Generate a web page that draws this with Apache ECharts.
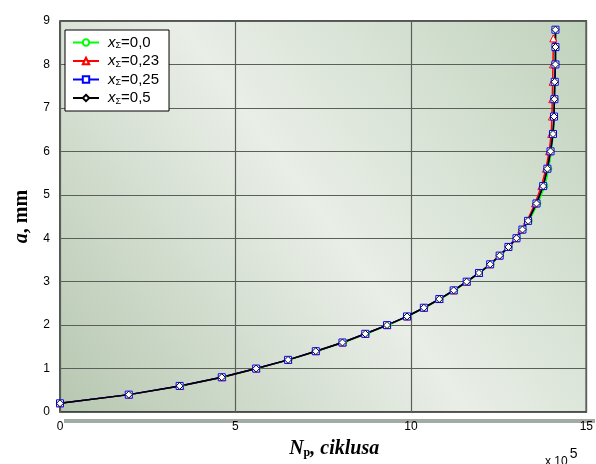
<!DOCTYPE html>
<html>
<head>
<meta charset="utf-8">
<script src="https://cdn.jsdelivr.net/npm/echarts@6/dist/echarts.min.js"></script>
<style>
  html, body { margin: 0; padding: 0; background: #fff; }
  #chart { width: 596px; height: 464px; }
</style>
</head>
<body>
<div id="chart"></div>
<script>
// crack length a (mm) at each recorded step
const aVals = [0.2, 0.4, 0.6, 0.8, 1.0, 1.2, 1.4, 1.6, 1.8, 2.0, 2.2, 2.4, 2.6, 2.8, 3.0, 3.2, 3.4, 3.6, 3.8, 4.0, 4.2, 4.4,
    4.8, 5.2, 5.6, 6.0, 6.4, 6.8, 7.2, 7.6, 8.0, 8.4, 8.8]
const aValsRed = [0.2, 0.4, 0.6, 0.8, 1.0, 1.2, 1.4, 1.6, 1.8, 2.0, 2.2, 2.4, 2.6, 2.8, 3.0, 3.2, 3.4, 3.6, 3.8, 4.0, 4.2, 4.4,
    4.8, 5.2, 5.6, 6.0, 6.4, 6.8, 7.2, 7.6, 8.0, 8.6]
// number of cycles (x 10^5)
const nGreen = [0, 1.99, 3.45, 4.65, 5.62, 6.53, 7.32, 8.09, 8.74, 9.36, 9.92, 10.4, 10.84, 11.25, 11.62, 11.96, 12.28, 12.55, 12.8, 13.03, 13.2, 13.37,
    13.62, 13.82, 13.93, 14.0, 14.06, 14.08, 14.09, 14.1, 14.12, 14.12, 14.12]
const nRed = [0, 1.97, 3.43, 4.63, 5.6, 6.51, 7.3, 8.06, 8.71, 9.33, 9.9, 10.38, 10.82, 11.23, 11.6, 11.95, 12.25, 12.52, 12.77, 12.99, 13.15, 13.31,
    13.54, 13.72, 13.85, 13.94, 14.0, 14.02, 14.03, 14.04, 14.05, 14.06]
const nBlue = [0, 1.96, 3.41, 4.61, 5.59, 6.5, 7.29, 8.05, 8.7, 9.32, 9.89, 10.37, 10.81, 11.22, 11.59, 11.94, 12.26, 12.53, 12.78, 13.01, 13.18, 13.34,
    13.58, 13.77, 13.89, 13.98, 14.05, 14.08, 14.09, 14.1, 14.12, 14.12, 14.12]
const nBlack = [0, 1.96, 3.41, 4.61, 5.59, 6.5, 7.29, 8.05, 8.7, 9.32, 9.89, 10.37, 10.81, 11.22, 11.59, 11.94, 12.26, 12.53, 12.78, 13.01, 13.18, 13.34,
    13.58, 13.77, 13.89, 13.98, 14.05, 14.08, 14.09, 14.1, 14.12, 14.12, 14.12]
const seriesNames = ['0,0', '0,23', '0,25', '0,5']
const xTicks = [0, 5, 10, 15]
const yTicks = [0, 1, 2, 3, 4, 5, 6, 7, 8, 9]

function pairs(xs, ys) {
    return xs.map((x, i) => [x, ys[i]])
}

function makeSeries(name, color, symbol, size, data) {
    return {
        name: name,
        type: 'line',
        data: data,
        symbol: symbol,
        symbolSize: size,
        showSymbol: true,
        lineStyle: { color: color, width: 1.5 },
        itemStyle: { color: '#ffffff', borderColor: color, borderWidth: 1 },
        emphasis: { disabled: true },
        animation: false,
    }
}

let myChart = echarts.init(document.getElementById('chart'))
let option = {
    backgroundColor: '#ffffff',
    grid: {
        left: 60,
        right: 5,
        top: 21,
        bottom: 45,
        show: true,
        borderColor: '#1c1c1c',
        borderWidth: 1.5,
        backgroundColor: new echarts.graphic.LinearGradient(0, 1, 1, 0, [
            { offset: 0, color: '#b6c7b0' },
            { offset: 0.5, color: '#e9eee7' },
            { offset: 1, color: '#c0d2bc' },
        ]),
    },
    legend: {
        orient: 'vertical',
        left: 65,
        top: 30,
        padding: [5, 10, 5, 7],
        itemGap: 3,
        itemWidth: 26,
        itemHeight: 8,
        backgroundColor: '#ffffff',
        borderColor: '#000000',
        borderWidth: 1,
        borderRadius: 0,
        data: seriesNames,
        formatter: function (name) {
            return '{x|x}{s|Σ}{t|=' + name + '}'
        },
        textStyle: {
            rich: {
                x: { fontFamily: 'Liberation Sans', fontStyle: 'italic', fontSize: 15, color: '#000', padding: [0, 0, 0, 4] },
                s: { fontFamily: 'Liberation Sans', fontSize: 9, color: '#000', padding: [7, 0, 0, 0] },
                t: { fontFamily: 'Liberation Sans', fontSize: 15, color: '#000' },
            },
        },
    },
    xAxis: {
        type: 'value',
        min: 0,
        max: 15,
        interval: 5,
        name: '{n|N}{s|p}{c|, ciklusa}',
        nameLocation: 'middle',
        nameGap: 27,
        nameTextStyle: {
            padding: [0, 0, 0, 22],
            rich: {
                n: { fontFamily: 'Liberation Serif', fontWeight: 'bold', fontStyle: 'italic', fontSize: 20, color: '#000' },
                s: { fontFamily: 'Liberation Serif', fontWeight: 'bold', fontSize: 12, color: '#000', padding: [8, 0, 0, 0] },
                c: { fontFamily: 'Liberation Serif', fontWeight: 'bold', fontStyle: 'italic', fontSize: 20, color: '#000' },
            },
        },
        axisLine: { show: false },
        axisTick: { show: false },
        axisLabel: {
            margin: 9,
            fontFamily: 'Liberation Sans',
            fontSize: 12,
            color: '#000',
            customValues: xTicks,
        },
        splitLine: { show: true, lineStyle: { color: '#5a5f5a', width: 1.2 } },
    },
    yAxis: {
        type: 'value',
        min: 0,
        max: 9,
        interval: 1,
        name: '{a|a}{m|, mm}',
        nameLocation: 'middle',
        nameGap: 28,
        nameRotate: 90,
        nameTextStyle: {
            rich: {
                a: { fontFamily: 'Liberation Serif', fontWeight: 'bold', fontStyle: 'italic', fontSize: 20, color: '#000' },
                m: { fontFamily: 'Liberation Serif', fontWeight: 'bold', fontSize: 20, color: '#000' },
            },
        },
        axisLine: { show: false },
        axisTick: { show: false },
        axisLabel: {
            margin: 10,
            fontFamily: 'Liberation Sans',
            fontSize: 12,
            color: '#000',
            padding: [0, 0, 9, 0],
            customValues: yTicks,
        },
        splitLine: { show: true, lineStyle: { color: '#5a5f5a', width: 1.2 } },
    },
    graphic: [
        {
            type: 'rect',
            z: -1,
            shape: { x: 64, y: 419, width: 531, height: 4 },
            style: { fill: '#a3aca2' },
        },
        {
            type: 'text',
            left: 545,
            top: 447,
            style: {
                text: '{a|x 10}{b|5}',
                rich: {
                    a: { fontFamily: 'Liberation Sans', fontSize: 12, color: '#000', padding: [10, 0, 0, 0] },
                    b: { fontFamily: 'Liberation Sans', fontSize: 14, color: '#000', padding: [0, 0, 6, 2] },
                },
            },
        },
    ],
    series: [
        makeSeries(seriesNames[0], '#00ff00', 'circle', 6, pairs(nGreen, aVals)),
        makeSeries(seriesNames[1], '#ff0000', 'triangle', 7, pairs(nRed, aValsRed)),
        makeSeries(seriesNames[2], '#0000ff', 'rect', 7, pairs(nBlue, aVals)),
        makeSeries(seriesNames[3], '#000000', 'diamond', 7, pairs(nBlack, aVals)),
    ],
}
myChart.setOption(option)
</script>
</body>
</html>
